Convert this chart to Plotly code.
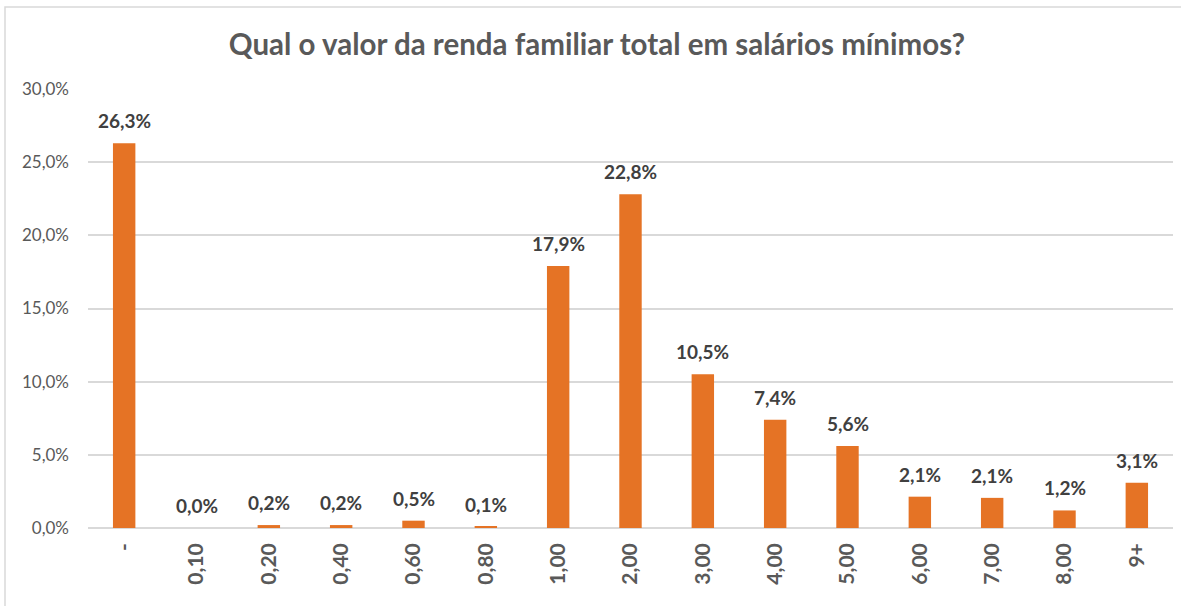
import plotly.graph_objects as go

categories = ["-", "0,10", "0,20", "0,40", "0,60", "0,80", "1,00", "2,00",
              "3,00", "4,00", "5,00", "6,00", "7,00", "8,00", "9+"]
values = [26.3, 0.0, 0.2, 0.2, 0.5, 0.1, 17.9, 22.8, 10.5, 7.4, 5.6, 2.14, 2.06, 1.2, 3.1]
y_ticks = [0, 5, 10, 15, 20, 25, 30]
y_tick_labels = ["0,0%", "5,0%", "10,0%", "15,0%", "20,0%", "25,0%", "30,0%"]

W, H = 1181, 606
ml, mr, mt, mb = 88, 8, 89, 78
pw, ph = W - ml - mr, H - mt - mb

FONT = "Lato, Open Sans, sans-serif"

fig = go.Figure()
fig.add_trace(go.Bar(
    x=categories, y=values,
    marker=dict(color="#E57325", line=dict(width=0)),
    hoverinfo="x+y",
))

for c, v in zip(categories, values):
    fig.add_annotation(
        x=c, y=v, xref="x", yref="y",
        text="<b>" + f"{v:.1f}".replace(".", ",") + "%</b>",
        showarrow=False, yanchor="bottom", yshift=9,
        font=dict(family=FONT, size=19, color="#404040"),
    )

fig.update_layout(
    width=W, height=H,
    margin=dict(l=ml, r=mr, t=mt, b=mb, autoexpand=False),
    paper_bgcolor="white", plot_bgcolor="white",
    separators=",.",
    bargap=0.69,
    showlegend=False,
    title=dict(text="<b>Qual o valor da renda familiar total em salários mínimos?</b>",
               x=597 / W, xref="container", xanchor="center", y=1 - 45 / H, yanchor="middle",
               font=dict(family=FONT, size=29.5, color="#595959")),
    font=dict(family=FONT, color="#595959"),
    xaxis=dict(type="category", tickangle=-90, showgrid=False, showline=False,
               ticks="", ticklabelstandoff=10,
               tickvals=categories, ticktext=["<b>" + c + "</b>" for c in categories],
               tickfont=dict(size=21, color="#595959")),
    yaxis=dict(range=[0, 30], tickvals=y_ticks, ticktext=y_tick_labels,
               showgrid=True, gridcolor="#D9D9D9", gridwidth=1.5,
               zeroline=True, zerolinecolor="#D9D9D9", zerolinewidth=1.5,
               showline=False, ticks="", ticklabelstandoff=18,
               tickfont=dict(size=17, color="#595959")),
    shapes=[dict(type="rect", xref="paper", yref="paper",
                 x0=(5 - ml) / pw, x1=(W + 20 - ml) / pw,
                 y0=-(mb + 20) / ph, y1=1 + (mt - 7) / ph,
                 line=dict(color="#D9D9D9", width=1.5), layer="below")],
)

fig.write_html("out.html", config={"displayModeBar": False},
               post_script="document.body.style.margin='0';document.body.style.overflow='hidden';")
